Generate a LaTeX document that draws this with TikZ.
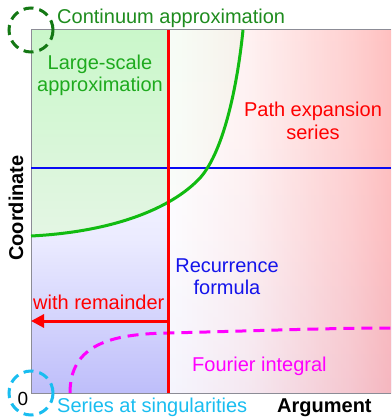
\documentclass[tikz,border=0pt]{standalone}
\usepackage{fontspec}
\setmainfont{Liberation Sans}
\usetikzlibrary{arrows.meta}
\definecolor{dkgreen}{RGB}{30,140,30}
\definecolor{txgreen}{RGB}{30,170,30}
\definecolor{cvgreen}{RGB}{17,187,17}
\definecolor{circgreen}{RGB}{20,120,20}
\definecolor{cyanc}{RGB}{25,189,240}
\definecolor{bluel}{RGB}{10,10,245}
\definecolor{bluetx}{RGB}{20,20,235}
\definecolor{redc}{RGB}{255,0,0}
\definecolor{magc}{RGB}{255,0,255}
\definecolor{boxgray}{RGB}{140,140,150}
\definecolor{gtop}{RGB}{202,247,202}
\definecolor{gbot}{RGB}{228,246,228}
\definecolor{lav}{RGB}{190,190,250}
\pgfdeclarehorizontalshading{pinkgrad}{100bp}{color(0bp)=(white); color(25bp)=(white); color(43bp)=(red!6); color(66bp)=(red!21); color(75bp)=(red!29); color(100bp)=(red!29)}
\pgfdeclareverticalshading{bluegrad}{100bp}{color(0bp)=(lav); color(25bp)=(lav); color(46bp)=(blue!8); color(60bp)=(blue!2); color(75bp)=(white); color(100bp)=(white)}
\pgfdeclareverticalshading{greengrad}{100bp}{color(0bp)=(gbot); color(25bp)=(gbot); color(75bp)=(gtop); color(100bp)=(gtop)}
\begin{document}
\begin{tikzpicture}[x=1pt,y=-1pt,
  lbl/.style={font=\fontsize{20}{22}\selectfont, inner sep=0pt, anchor=base},
  lblw/.style={lbl, anchor=base west},
  thick line/.style={line width=3pt},
  dashcirc/.style={line width=3pt, dash pattern=on 10pt off 6pt},
]
\useasboundingbox (0,0) rectangle (391,417);
% corners
\coordinate (TL) at (31,30);
\coordinate (TR) at (391,30);
\coordinate (BL) at (31,393);
\coordinate (BR) at (391,393);
% region fills
\shade[shading=greengrad] (31,30) -- (243,30) .. controls (238,80) and (225,150) .. (200,178) .. controls (170,210) and (110,232) .. (31,236) -- cycle;
\shade[shading=bluegrad] (31,236) .. controls (110,232) and (170,210) .. (200,178) .. controls (225,150) and (238,80) .. (243,30) -- (391,30) -- (391,393) -- (31,393) -- cycle;
\shade[shading=pinkgrad, opacity=0.85] (168,30) rectangle (391,393);
% box
\draw[boxgray, line width=1pt] (TR) -- (TL) -- (BL) -- (BR);
% blue line
\coordinate (bS) at (31,168);
\coordinate (bE) at (391,168);
\draw[bluel, line width=2.6pt] (bS) -- (bE);
% green curve
\coordinate (gS) at (31,236);
\coordinate (gM) at (200,178);
\coordinate (gE) at (243,30);
\draw[cvgreen, thick line] (gS) .. controls (110,232) and (170,210) .. (gM) .. controls (225,150) and (238,80) .. (gE);
% magenta dashed curve
\coordinate (mS) at (70,393);
\coordinate (mM) at (168,333);
\coordinate (mE) at (391,328);
\draw[magc, thick line, dash pattern=on 11pt off 7pt] (mS) .. controls (70,345) and (110,334) .. (mM) .. controls (250,331) and (330,328) .. (mE);
% red line and arrow
\coordinate (rT) at (168,30);
\coordinate (rB) at (168,393);
\draw[redc, thick line] (rT) -- (rB);
\coordinate (aS) at (168,321);
\coordinate (aE) at (31,321);
\draw[redc, line width=3pt, -{Triangle[length=13pt,width=13pt]}] (aS) -- (aE);
% circles
\draw[circgreen, dashcirc] (TL) circle[radius=22];
\draw[cyanc, dashcirc] (BL) circle[radius=22];
% labels
\node[lblw, text=dkgreen] (cont) at (57,24) {Continuum approximation};
\node[lbl, text=txgreen, align=center] (large) at (100,92) {Large-scale\\approximation};
\node[lbl, text=redc, align=center] (path) at (313,139) {Path expansion\\series};
\node[lbl, text=bluetx, align=center] (rec) at (227,294) {Recurrence\\formula};
\node[lblw, text=redc] (rem) at (33,309) {with remainder};
\node[lblw, text=magc] (four) at (192,371) {Fourier integral};
\node[lblw, text=cyanc] (sing) at (57,412) {Series at singularities};
\node[lblw, font=\fontsize{20}{22}\selectfont\bfseries] (arg) at (277,412) {Argument};
\node[lbl, font=\fontsize{19}{22}\selectfont] (zero) at (23,405) {0};
\node[lbl, font=\fontsize{20}{22}\selectfont\bfseries, rotate=90] (coord) at (23,208) {Coordinate};
\end{tikzpicture}
\end{document}
